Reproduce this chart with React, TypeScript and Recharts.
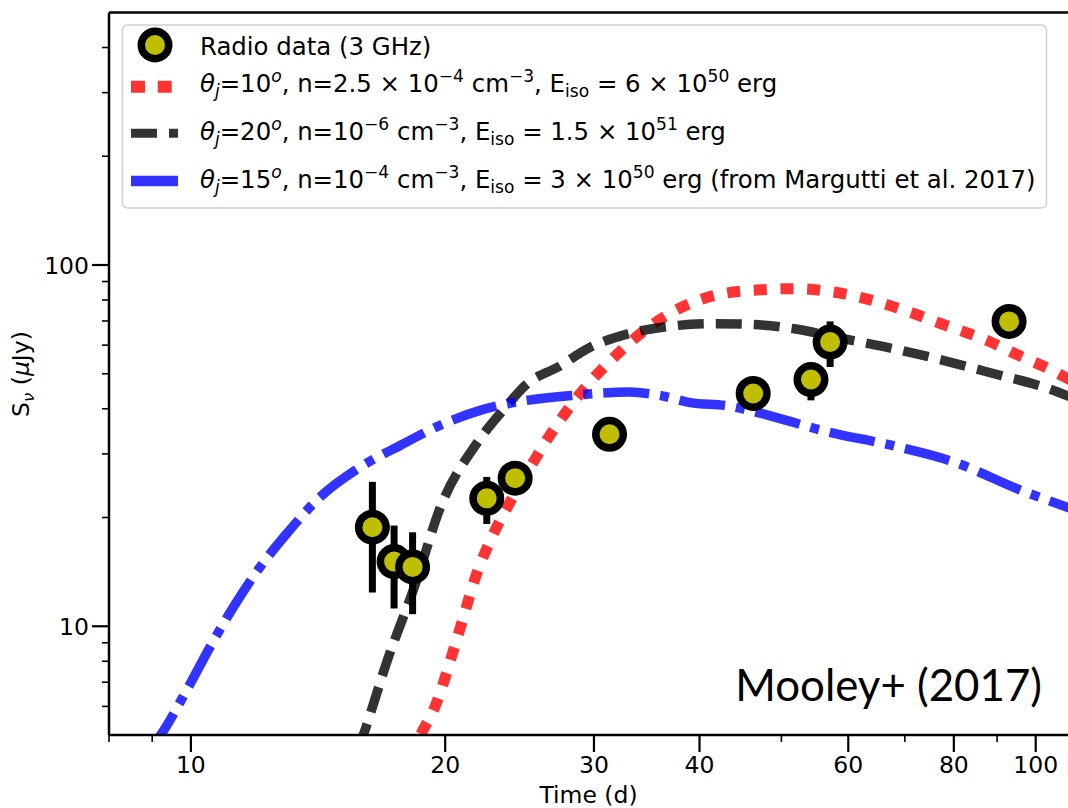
import React from 'react';
import { ComposedChart, Line, Scatter, ErrorBar, XAxis, YAxis, ReferenceLine, Legend } from 'recharts';

const FONT = '"DejaVu Sans", sans-serif';
const LEG_SIZE = 24.4;

// Radio data (3 GHz): time (d), flux (uJy), error bar ends
const obsTime = [16.4, 17.4, 18.3, 22.4, 24.2, 31.3, 46.3, 54.2, 57.1, 93.0];
const obsFlux = [18.8, 15.1, 14.6, 22.6, 25.7, 34.0, 44.1, 48.2, 61.2, 69.8];
const obsLow = [12.4, 11.2, 10.8, 19.2, 23.7, 31.5, 41.1, 42.2, 52.2, 65.8];
const obsHigh = [25.1, 19.0, 18.2, 25.9, 27.7, 36.5, 47.1, 53.5, 69.8, 73.8];

// theta_j = 10 deg model
const redTime = [18.2, 18.7, 19.4, 20.7, 21.8, 22.6, 23.8, 25.2, 26.7, 28.9, 31.7, 35.3, 40.9, 46.8, 52, 57, 62, 71, 77, 82, 88, 95, 102, 110];
const redFlux = [4.3, 5.0, 5.9, 9.4, 14.0, 17.2, 21.8, 27.5, 34.2, 44.1, 55.6, 68.8, 81.4, 85.3, 86.0, 84.5, 81.4, 74, 69, 65.5, 61.5, 56.5, 52.5, 48];

// theta_j = 20 deg model
const blackTime = [15.8, 16.0, 17.1, 18.4, 19.75, 21.8, 23.5, 25.0, 27.2, 29.7, 32.9, 36.5, 41.6, 46, 51.75, 59.3, 68, 77.9, 89.3, 102.3, 110];
const blackFlux = [4.6, 5.0, 8.1, 12.9, 21.4, 32.1, 40, 46.9, 52.2, 59.2, 64.5, 67.5, 68.8, 68.5, 66.6, 62.5, 58.6, 54.4, 50.0, 45.9, 43.1];

// theta_j = 15 deg model (Margutti et al. 2017)
const blueTime = [8.9, 9.21, 9.9, 10.55, 11.24, 12.09, 13.0, 14.11, 15.88, 17.71, 19.93, 22.0, 23.7, 28.4, 33.0, 36, 39.0, 43.0, 49.0, 55.7, 68.6, 80, 96, 110];
const blueFlux = [4.5, 5.0, 6.69, 8.81, 11.35, 14.64, 18.1, 22.4, 27.6, 31.7, 36.4, 39.6, 41.3, 43.6, 44.5, 43.5, 41.6, 40.8, 38.0, 34.9, 31.4, 28.5, 23.8, 21.2];

const xMajor = [10, 20, 30, 40, 60, 80, 100];
const xMinor = [8, 9, 50, 70, 90];
const yMajor = [10, 100];
const yMinor = [6, 7, 8, 9, 20, 30, 40, 50, 60, 70, 80, 90, 200, 300, 400];

const obsData = obsTime.map((t, i) => ({ t, f: obsFlux[i], err: [obsFlux[i] - obsLow[i], obsHigh[i] - obsFlux[i]] }));
const toSeries = (ts: number[], fs: number[]) => ts.map((t, i) => ({ t, f: fs[i] }));
const redData = toSeries(redTime, redFlux);
const blackData = toSeries(blackTime, blackFlux);
const blueData = toSeries(blueTime, blueFlux);

const XTick = (props: any) => {
  const { x, y, payload } = props;
  const major = xMajor.includes(payload.value);
  return (
    <g>
      <line x1={x} x2={x} y1={y} y2={y + (major ? 17 : 7)} stroke="#000" strokeWidth={major ? 2.2 : 1.6} />
      {major && (
        <text x={x} y={y + 37.5} textAnchor="middle" fontFamily={FONT} fontSize={23.5} fill="#000">
          {payload.value}
        </text>
      )}
    </g>
  );
};

const YTick = (props: any) => {
  const { x, y, payload } = props;
  const major = yMajor.includes(payload.value);
  return (
    <g>
      <line x1={x} x2={x - (major ? 17 : 7)} y1={y} y2={y} stroke="#000" strokeWidth={major ? 2.2 : 1.6} />
      {major && (
        <text x={x - 20} y={y + 9} textAnchor="end" fontFamily={FONT} fontSize={23.5} fill="#000">
          {payload.value}
        </text>
      )}
    </g>
  );
};

const XTitle = () => (
  <text x={588.5} y={803} textAnchor="middle" fontFamily={FONT} fontSize={23.5} fill="#000">Time (d)</text>
);

const YTitle = () => (
  <text x={29} y={374} transform="rotate(-90 29 374)" textAnchor="middle" fontFamily={FONT} fontSize={23.5} fill="#000" style={{ whiteSpace: 'pre' }}>
    <tspan>S</tspan>
    <tspan dy={4.5} fontSize={16.5} fontStyle="italic">ν</tspan>
    <tspan dy={-4.5}> (</tspan>
    <tspan fontStyle="italic">μ</tspan>
    <tspan>Jy)</tspan>
  </text>
);

type Seg = [string, string];

const RichText = ({ x, y, segs }: { x: number; y: number; segs: Seg[] }) => {
  let shift = 0;
  return (
    <text x={x} y={y} fontFamily={FONT} fontSize={LEG_SIZE} fill="#000" style={{ whiteSpace: 'pre' }}>
      {segs.map(([s, k], i) => {
        const target = k.endsWith('sup') ? -10.5 : k.endsWith('sub') ? 4.5 : 0;
        const dy = target - shift;
        shift = target;
        return (
          <tspan key={i} dy={dy} fontSize={target === 0 ? LEG_SIZE : LEG_SIZE * 0.7} fontStyle={k.startsWith('i') ? 'italic' : 'normal'}>
            {s}
          </tspan>
        );
      })}
    </text>
  );
};

const row2: Seg[] = [['θ', 'i'], ['j', 'isub'], ['=10', 'n'], ['o', 'isup'], [', n=2.5 × 10', 'n'], ['−4', 'sup'], [' cm', 'n'], ['−3', 'sup'], [', E', 'n'], ['iso', 'sub'], [' = 6 × 10', 'n'], ['50', 'sup'], [' erg', 'n']];
const row3: Seg[] = [['θ', 'i'], ['j', 'isub'], ['=20', 'n'], ['o', 'isup'], [', n=10', 'n'], ['−6', 'sup'], [' cm', 'n'], ['−3', 'sup'], [', E', 'n'], ['iso', 'sub'], [' = 1.5 × 10', 'n'], ['51', 'sup'], [' erg', 'n']];
const row4: Seg[] = [['θ', 'i'], ['j', 'isub'], ['=15', 'n'], ['o', 'isup'], [', n=10', 'n'], ['−4', 'sup'], [' cm', 'n'], ['−3', 'sup'], [', E', 'n'], ['iso', 'sub'], [' = 3 × 10', 'n'], ['50', 'sup'], [' erg (from Margutti et al. 2017)', 'n']];

const LegendBox = () => (
  <svg width={1068} height={808} style={{ display: 'block', pointerEvents: 'none' }}>
    <rect x={122.5} y={25} width={924} height={183} rx={5} fill="#fff" fillOpacity={0.8} stroke="#d0d0d0" strokeWidth={1.5} />
    <circle cx={155} cy={45} r={13.75} fill="#bfbf00" stroke="#000" strokeWidth={7.5} />
    <text x={200} y={54.5} fontFamily={FONT} fontSize={LEG_SIZE} fill="#000">Radio data (3 GHz)</text>
    <line x1={131} x2={178} y1={86.7} y2={86.7} stroke="#ff0000" strokeOpacity={0.8} strokeWidth={12} strokeDasharray="14 12.7" />
    <RichText x={200} y={92} segs={row2} />
    <line x1={131} x2={178} y1={133.3} y2={133.3} stroke="#000" strokeOpacity={0.8} strokeWidth={9} strokeDasharray="26 12" />
    <RichText x={200} y={140} segs={row3} />
    <line x1={131} x2={178} y1={181} y2={181} stroke="#0000ff" strokeOpacity={0.8} strokeWidth={10.5} />
    <RichText x={200} y={188.3} segs={row4} />
    <text x={1042} y={701} textAnchor="end" fontFamily="Lato, 'Open Sans', sans-serif" fontSize={43.8} fill="#000">Mooley+ (2017)</text>
  </svg>
);

const Marker = (props: any) => {
  const { cx, cy } = props;
  return <circle cx={cx} cy={cy} r={13.75} fill="#bfbf00" stroke="#000" strokeWidth={7.5} />;
};

export default function App() {
  return (
    <div style={{ position: 'absolute', left: 0, top: 0, width: 1068, height: 808, overflow: 'hidden', background: '#fff' }}>
      <ComposedChart width={1068} height={808} margin={{ top: 12.5, right: 0, bottom: 0, left: 0 }}>
        <XAxis
          dataKey="t"
          type="number"
          scale="log"
          domain={[8, 109.2]}
          allowDataOverflow
          ticks={[...xMinor, ...xMajor].sort((a, b) => a - b)}
          interval={0}
          tick={<XTick />}
          tickLine={false}
          tickSize={0}
          tickMargin={0}
          height={73}
          axisLine={{ stroke: '#000', strokeWidth: 2.5 }}
          label={<XTitle />}
        />
        <YAxis
          dataKey="f"
          type="number"
          scale="log"
          domain={[5, 500]}
          allowDataOverflow
          ticks={[...yMinor, ...yMajor].sort((a, b) => a - b)}
          interval={0}
          tick={<YTick />}
          tickLine={false}
          tickSize={0}
          tickMargin={0}
          width={109}
          axisLine={{ stroke: '#000', strokeWidth: 2.5 }}
          label={<YTitle />}
        />
        <ReferenceLine y={500} stroke="#000" strokeWidth={2.5} />
        <Line data={redData} dataKey="f" type="monotone" stroke="#ff0000" strokeOpacity={0.8} strokeWidth={11} strokeDasharray="13 13.7" dot={false} activeDot={false} isAnimationActive={false} name="red" />
        <Line data={blackData} dataKey="f" type="monotone" stroke="#000" strokeOpacity={0.8} strokeWidth={9.5} strokeDasharray="26 12" dot={false} activeDot={false} isAnimationActive={false} name="black" />
        <Line data={blueData} dataKey="f" type="monotone" stroke="#0000ff" strokeOpacity={0.8} strokeWidth={9.5} strokeDasharray="46 11 9 11" dot={false} activeDot={false} isAnimationActive={false} name="blue" />
        <Scatter data={obsData} dataKey="f" shape={<Marker />} isAnimationActive={false} name="Radio data (3 GHz)">
          <ErrorBar dataKey="err" direction="y" width={0} stroke="#000" strokeWidth={7} />
        </Scatter>
        <Legend
          layout="horizontal"
          verticalAlign="middle"
          align="center"
          content={() => <LegendBox />}
          wrapperStyle={{ left: 0, top: 0, width: 1068, height: 808, pointerEvents: 'none' }}
        />
      </ComposedChart>
    </div>
  );
}
